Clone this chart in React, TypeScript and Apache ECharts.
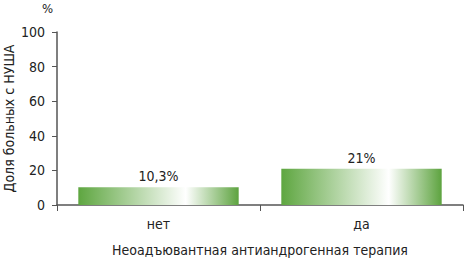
import React, { useEffect, useRef } from "react";
import * as echarts from "echarts";

const categories = ["нет", "да"];
const values = [10.3, 21];
const valueLabels = ["10,3%", "21%"];
const yTicks = [0, 20, 40, 60, 80, 100];
const yName = "Доля больных с НУША";
const xName = "Неоадъювантная антиандрогенная терапия";
const unit = "%";

const FONT = "'DejaVu Sans Condensed', 'Liberation Sans', sans-serif";

export default function App() {
  const ref = useRef<HTMLDivElement>(null);
  useEffect(() => {
    if (!ref.current) return;
    const chart = echarts.init(ref.current, null, { renderer: "svg" });
    const grad = new echarts.graphic.LinearGradient(0, 0, 1, 0, [
      { offset: 0, color: "#5ea640" },
      { offset: 0.67, color: "#ffffff" },
      { offset: 1, color: "#5da33f" },
    ]);
    chart.setOption({
      animation: false,
      textStyle: { fontFamily: FONT },
      grid: { left: 57, right: 2, top: 32, bottom: 57, containLabel: false, outerBoundsMode: "none" },
      xAxis: {
        type: "category",
        data: categories,
        axisLine: { lineStyle: { color: "#555", width: 1.5 } },
        axisTick: { show: true, length: 6, alignWithLabel: false, lineStyle: { color: "#555" } },
        axisLabel: { color: "#222", fontSize: 14, margin: 12, fontFamily: FONT },
        name: xName,
        nameLocation: "middle",
        nameGap: 38,
        nameMoveOverlap: false,
        nameTextStyle: { color: "#222", fontSize: 14, fontFamily: FONT },
      },
      yAxis: {
        type: "value",
        min: yTicks[0],
        max: yTicks[yTicks.length - 1],
        interval: 20,
        axisLine: { show: true, lineStyle: { color: "#555", width: 1.5 } },
        axisTick: { show: true, length: 5, lineStyle: { color: "#555" } },
        splitLine: { show: false },
        axisLabel: { color: "#222", fontSize: 14, margin: 12, fontFamily: FONT },
        name: yName,
        nameLocation: "middle",
        nameRotate: 90,
        nameGap: 41,
        nameMoveOverlap: false,
        nameTextStyle: { color: "#222", fontSize: 14, fontFamily: FONT },
      },
      graphic: [
        {
          type: "text",
          left: 42,
          top: 2,
          style: { text: unit, fontSize: 13, fill: "#222", fontFamily: FONT },
        },
      ],
      series: [
        {
          type: "bar",
          data: values,
          barWidth: "79%",
          itemStyle: { color: grad },
          label: {
            show: true,
            position: "top",
            distance: 4,
            color: "#222",
            fontSize: 14,
            fontFamily: FONT,
            formatter: (p: any) => valueLabels[p.dataIndex],
          },
        },
      ],
    });
    return () => chart.dispose();
  }, []);
  return <div ref={ref} style={{ width: 465, height: 262, position: "absolute", left: 0, top: 0, background: "#fff" }} />;
}
